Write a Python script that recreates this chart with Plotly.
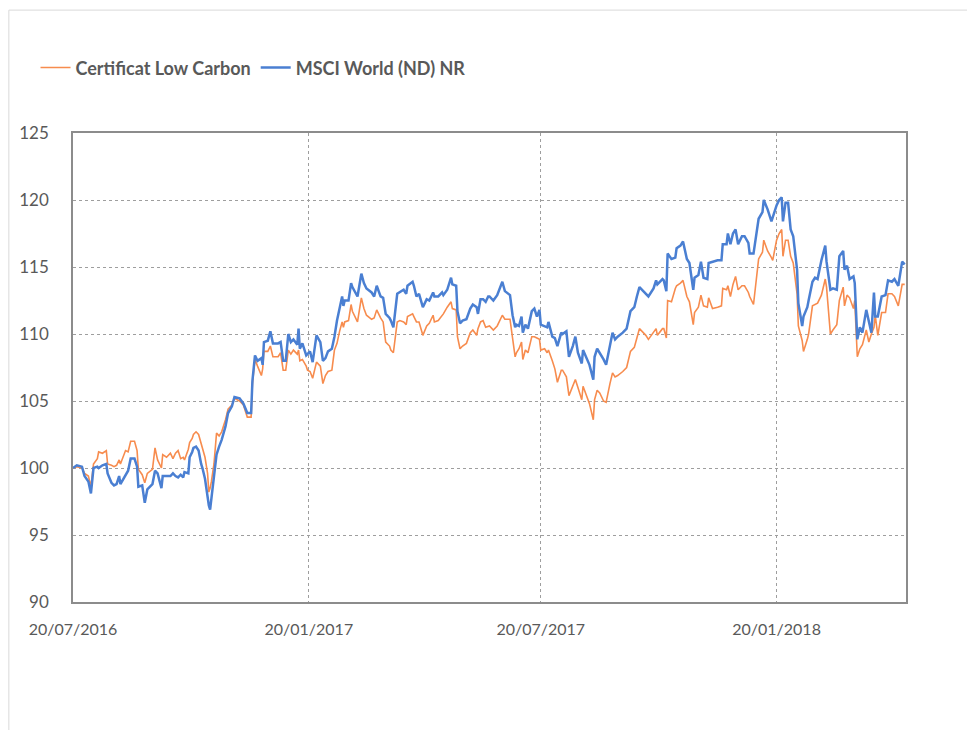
import plotly.graph_objects as go

# ---- data ----
dates = [
    "2016-07-20","2016-07-23","2016-07-27","2016-07-29","2016-08-01","2016-08-03","2016-08-05","2016-08-08",
    "2016-08-09","2016-08-12","2016-08-15","2016-08-16","2016-08-19","2016-08-21","2016-08-23","2016-08-25",
    "2016-08-26","2016-08-30","2016-09-01","2016-09-03","2016-09-06","2016-09-08","2016-09-09","2016-09-12",
    "2016-09-14","2016-09-16","2016-09-20","2016-09-22","2016-09-24","2016-09-27","2016-09-28","2016-10-01",
    "2016-10-04","2016-10-06","2016-10-08","2016-10-10","2016-10-12","2016-10-14","2016-10-15","2016-10-18",
    "2016-10-19","2016-10-21","2016-10-22","2016-10-24","2016-10-26","2016-10-28","2016-10-29","2016-10-31",
    "2016-11-02","2016-11-03","2016-11-04","2016-11-05","2016-11-07","2016-11-09","2016-11-11","2016-11-13",
    "2016-11-16","2016-11-18","2016-11-21","2016-11-23","2016-11-27","2016-11-30","2016-12-03","2016-12-06",
    "2016-12-07","2016-12-09","2016-12-11","2016-12-14","2016-12-15","2016-12-16","2016-12-19","2016-12-21",
    "2016-12-23","2016-12-27","2016-12-29","2016-12-31","2017-01-02","2017-01-04","2017-01-06","2017-01-08",
    "2017-01-11","2017-01-12","2017-01-13","2017-01-15","2017-01-18","2017-01-19","2017-01-21","2017-01-23",
    "2017-01-26","2017-01-29","2017-01-31","2017-02-02","2017-02-04","2017-02-07","2017-02-09","2017-02-11",
    "2017-02-13","2017-02-15","2017-02-16","2017-02-17","2017-02-20","2017-02-22","2017-02-23","2017-02-27",
    "2017-03-02","2017-03-04","2017-03-06","2017-03-10","2017-03-12","2017-03-14","2017-03-17","2017-03-19",
    "2017-03-21","2017-03-24","2017-03-25","2017-03-27","2017-03-30","2017-04-01","2017-04-04","2017-04-06",
    "2017-04-07","2017-04-11","2017-04-12","2017-04-14","2017-04-16","2017-04-19","2017-04-22","2017-04-24",
    "2017-04-27","2017-04-28","2017-05-01","2017-05-04","2017-05-05","2017-05-08","2017-05-11","2017-05-12",
    "2017-05-15","2017-05-16","2017-05-18","2017-05-20","2017-05-23","2017-05-26","2017-05-28","2017-05-31",
    "2017-06-01","2017-06-03","2017-06-05","2017-06-07","2017-06-09","2017-06-10","2017-06-13","2017-06-16",
    "2017-06-20","2017-06-22","2017-06-26","2017-06-28","2017-06-30","2017-07-01","2017-07-03","2017-07-05",
    "2017-07-06","2017-07-08","2017-07-10","2017-07-13","2017-07-15","2017-07-17","2017-07-19","2017-07-20",
    "2017-07-23","2017-07-25","2017-07-26","2017-07-29","2017-07-31","2017-08-02","2017-08-05","2017-08-06",
    "2017-08-09","2017-08-11","2017-08-14","2017-08-16","2017-08-18","2017-08-21","2017-08-22","2017-08-25",
    "2017-08-27","2017-08-30","2017-08-31","2017-09-02","2017-09-04","2017-09-07","2017-09-09","2017-09-12",
    "2017-09-14","2017-09-16","2017-09-18","2017-09-22","2017-09-25","2017-09-28","2017-10-01","2017-10-03",
    "2017-10-05","2017-10-08","2017-10-10","2017-10-12","2017-10-16","2017-10-18","2017-10-19","2017-10-23",
    "2017-10-24","2017-10-26","2017-10-27","2017-10-30","2017-11-02","2017-11-03","2017-11-06","2017-11-08",
    "2017-11-11","2017-11-13","2017-11-16","2017-11-17","2017-11-20","2017-11-22","2017-11-24","2017-11-27",
    "2017-11-28","2017-12-01","2017-12-05","2017-12-08","2017-12-09","2017-12-12","2017-12-13","2017-12-15",
    "2017-12-17","2017-12-19","2017-12-21","2017-12-24","2017-12-26","2017-12-29","2017-12-30","2018-01-02",
    "2018-01-06","2018-01-09","2018-01-10","2018-01-13","2018-01-16","2018-01-17","2018-01-20","2018-01-22",
    "2018-01-24","2018-01-25","2018-01-27","2018-01-29","2018-01-31","2018-02-02","2018-02-05","2018-02-06",
    "2018-02-09","2018-02-10","2018-02-13","2018-02-14","2018-02-17","2018-02-19","2018-02-21","2018-02-24",
    "2018-02-27","2018-02-28","2018-03-03","2018-03-05","2018-03-08","2018-03-10","2018-03-13","2018-03-14",
    "2018-03-16","2018-03-18","2018-03-21","2018-03-22","2018-03-24","2018-03-26","2018-03-28","2018-03-31",
    "2018-04-02","2018-04-04","2018-04-06","2018-04-07","2018-04-09","2018-04-12","2018-04-15","2018-04-17",
    "2018-04-20","2018-04-22","2018-04-25","2018-04-28","2018-04-30",
]

msci_world = [
    100.0,100.2,100.1,99.4,99.0,98.1,100.0,100.1,
    100.0,100.2,100.3,99.6,98.9,98.7,98.8,99.4,
    98.8,99.5,99.8,100.7,100.7,100.1,98.6,98.7,
    97.4,98.4,98.8,99.8,99.6,98.5,99.4,99.4,
    99.4,99.6,99.4,99.3,99.5,99.3,99.7,99.6,
    100.8,101.2,101.5,101.6,101.3,100.3,100.0,99.2,
    97.6,97.2,96.9,97.8,99.6,101.0,101.6,102.1,
    103.1,104.1,104.6,105.3,105.2,104.8,104.1,104.1,
    106.5,108.4,108.0,108.2,107.7,109.4,109.5,110.2,
    109.3,109.3,109.4,108.0,108.0,110.0,109.4,109.6,
    109.2,110.4,108.9,109.3,108.4,108.5,108.7,107.9,
    109.9,109.4,108.0,108.2,108.7,108.9,109.8,111.0,
    111.8,112.8,112.1,112.5,112.5,113.8,113.5,112.8,
    114.5,113.8,113.4,113.1,112.8,113.6,112.8,112.7,
    111.5,111.2,111.0,110.5,113.0,113.1,113.3,113.0,
    113.6,113.9,113.6,112.8,113.0,112.0,112.6,112.5,
    113.1,112.8,112.8,113.1,112.9,113.3,114.2,113.7,
    113.6,111.7,110.8,111.0,111.1,111.9,112.2,112.0,
    111.5,112.6,112.6,112.4,112.8,112.8,112.5,112.9,
    113.9,113.2,112.9,111.4,110.5,110.7,110.6,111.3,
    110.1,110.7,110.4,111.7,111.9,111.3,111.8,110.7,
    110.6,110.5,110.9,109.8,109.7,109.1,110.1,110.0,
    110.2,108.3,109.1,109.8,108.6,107.8,108.8,108.1,
    107.7,106.6,108.3,108.9,108.6,108.1,107.7,109.1,
    110.1,109.6,109.8,110.1,110.4,111.7,112.0,112.8,
    113.5,113.2,113.0,112.8,113.4,114.0,113.7,114.1,
    114.0,113.2,116.0,115.6,115.7,116.4,116.6,116.9,
    115.6,115.3,113.3,114.2,114.4,115.4,114.2,114.1,
    115.3,115.4,115.5,115.5,116.7,116.7,117.5,116.7,
    117.5,117.8,116.7,117.3,117.3,116.8,116.0,116.0,
    118.6,119.1,120.0,119.3,118.4,118.7,119.6,120.0,
    120.2,118.4,119.8,119.8,117.8,117.3,114.8,112.3,
    110.6,111.3,112.0,112.5,113.9,114.2,114.1,115.5,
    116.6,115.4,113.3,113.4,113.3,115.8,116.2,114.8,
    115.1,114.1,114.3,113.8,109.6,110.5,110.1,111.8,
    110.9,110.1,113.1,111.3,111.3,112.8,112.9,114.0,
    113.9,114.1,113.6,115.4,115.2,
]

low_carbon = [
    100.0,100.1,100.0,99.6,99.4,98.6,100.3,100.7,
    101.2,101.1,101.3,100.3,100.2,100.1,100.2,100.6,
    100.3,101.3,101.2,102.0,102.0,101.3,99.9,99.5,
    98.9,99.6,99.9,101.5,100.6,100.0,101.0,100.8,
    101.1,100.7,101.1,101.3,100.7,100.8,100.6,101.4,
    101.9,102.2,102.5,102.7,102.5,101.8,101.4,100.8,
    99.6,98.2,98.5,99.0,100.3,102.6,102.4,102.7,
    103.6,104.4,104.7,105.2,105.0,104.7,103.8,103.8,
    106.3,108.1,107.6,106.9,107.4,108.7,108.7,109.1,
    108.3,108.3,108.6,107.3,107.3,108.8,108.5,108.8,
    108.5,108.8,108.0,108.1,107.6,107.3,107.2,106.7,
    107.9,107.6,106.3,106.9,107.2,107.3,108.8,109.3,
    110.2,110.9,110.5,110.9,111.0,112.2,111.7,110.9,
    112.7,111.9,111.4,111.1,111.2,111.8,111.2,110.9,
    109.4,109.1,108.8,108.6,110.9,111.0,110.9,110.7,
    111.3,111.5,111.3,110.9,110.9,109.9,110.6,110.8,
    111.4,110.9,111.0,111.4,111.5,112.0,112.4,111.9,
    111.8,109.8,108.9,109.1,109.3,110.1,110.3,109.9,
    110.4,110.9,111.0,110.5,110.6,110.6,110.3,110.6,
    111.4,111.1,111.1,109.6,108.3,108.6,108.9,109.4,
    108.1,108.8,108.6,109.8,109.8,109.7,109.6,108.8,
    108.9,108.6,108.8,108.0,107.4,106.4,107.3,107.3,
    106.8,105.4,106.1,106.6,106.0,105.1,106.1,105.4,
    104.8,103.6,105.1,105.8,105.6,105.0,104.9,106.3,
    107.1,106.8,106.9,107.2,107.5,108.7,109.0,109.7,
    110.4,110.1,109.9,109.6,110.1,110.4,109.9,110.4,
    110.4,109.7,112.5,112.4,113.4,113.6,113.8,114.0,
    112.8,112.4,110.7,111.6,112.0,112.9,112.1,112.0,
    112.7,111.9,112.0,112.1,113.4,113.3,113.6,112.8,
    113.7,114.3,113.3,113.6,113.6,113.1,112.8,112.2,
    115.6,116.1,117.0,116.2,115.7,115.5,117.0,117.5,
    117.8,115.8,117.0,117.0,115.8,115.3,113.0,110.6,
    109.5,108.7,109.6,110.0,112.1,112.2,112.3,112.9,
    114.1,113.5,110.0,110.3,110.7,112.5,113.5,112.1,
    112.9,112.7,111.9,112.5,108.3,108.9,109.2,110.3,
    109.4,110.0,110.5,111.4,109.9,111.6,111.6,113.0,
    113.0,112.8,112.1,113.7,113.7,
]

series_names = ["Certificat Low Carbon", "MSCI World (ND) NR"]
tick_dates = ["2016-07-20", "2017-01-20", "2017-07-20", "2018-01-20"]
tick_labels = ["20/07/2016", "20/01/2017", "20/07/2017", "20/01/2018"]
y_ticks = [90, 95, 100, 105, 110, 115, 120, 125]

ORANGE = "#F78C4E"
BLUE = "#4A7FD2"
TEXT = "#595959"
FONT = "Lato, 'Open Sans', sans-serif"

fig = go.Figure()
fig.add_trace(go.Scatter(x=dates, y=low_carbon, name=series_names[0], mode="lines",
                         line=dict(color=ORANGE, width=1.6)))
fig.add_trace(go.Scatter(x=dates, y=msci_world, name=series_names[1], mode="lines",
                         line=dict(color=BLUE, width=2.5)))

fig.update_layout(
    width=967, height=722,
    margin=dict(l=65, r=69, t=125, b=128),
    paper_bgcolor="white", plot_bgcolor="white",
    font=dict(family=FONT, color=TEXT, size=16),
    showlegend=True,
    legend=dict(orientation="h", x=-0.045, xanchor="left", y=1.139, yanchor="middle",
                font=dict(family=FONT, size=18, color=TEXT, weight="bold"),
                itemwidth=30, bgcolor="rgba(0,0,0,0)"),
    xaxis=dict(type="date", range=["2016-07-20", "2018-05-01"],
               tickvals=tick_dates, ticktext=tick_labels,
               showgrid=True, gridcolor="#9E9E9E", griddash="dot", gridwidth=1,
               showline=True, linecolor="#8C8C8C", linewidth=1.5, mirror=True,
               ticks="", ticklabelstandoff=12,
               tickfont=dict(family=FONT, size=16, color=TEXT), zeroline=False),
    yaxis=dict(range=[90, 125], tickvals=y_ticks,
               showgrid=True, gridcolor="#9E9E9E", griddash="dot", gridwidth=1,
               showline=True, linecolor="#8C8C8C", linewidth=1.5, mirror=True,
               ticks="", ticklabelstandoff=19,
               tickfont=dict(family=FONT, size=17, color=TEXT), zeroline=False),
    shapes=[dict(type="rect", xref="paper", yref="paper",
                 x0=-0.077, x1=1.077, y0=-0.35, y1=1.262,
                 line=dict(color="#D9D9D9", width=1), fillcolor="rgba(0,0,0,0)", layer="below")],
)

fig.write_html("out.html")
